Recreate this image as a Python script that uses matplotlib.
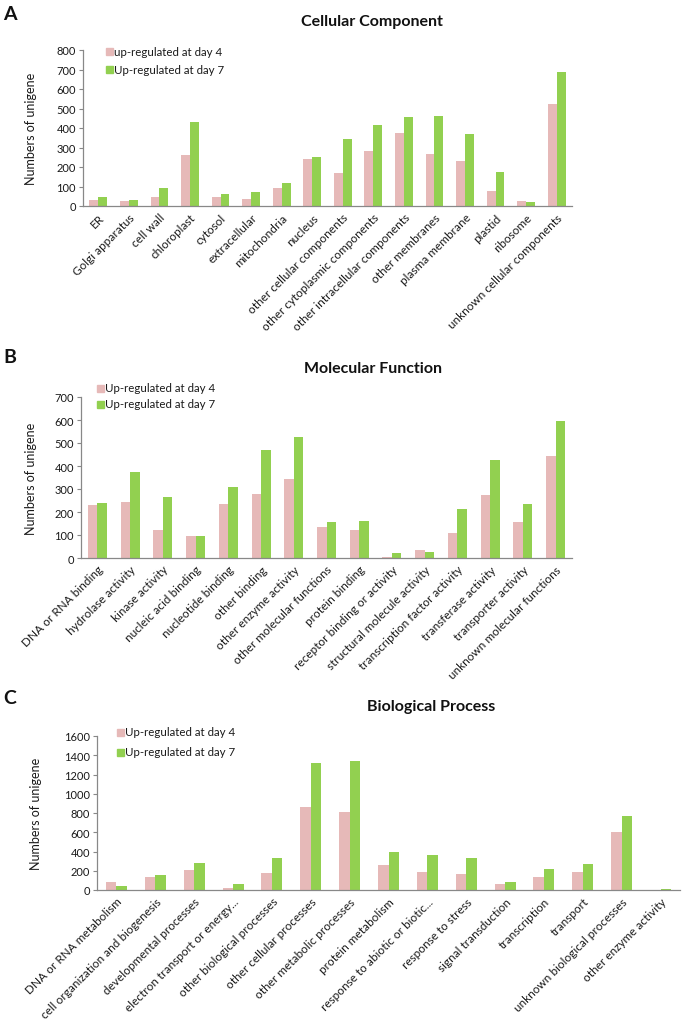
import matplotlib
matplotlib.use("Agg")
import matplotlib.pyplot as plt
import numpy as np

plt.rcParams['font.family'] = ['Lato', 'DejaVu Sans']

# ---------------- data ----------------
cc_categories = ["ER", "Golgi apparatus", "cell wall", "chloroplast", "cytosol", "extracellular",
                 "mitochondria", "nucleus", "other cellular components", "other cytoplasmic components",
                 "other intracellular components", "other membranes", "plasma membrane", "plastid",
                 "ribosome", "unknown cellular components"]
cc_day4 = [30, 25, 48, 260, 48, 37, 90, 243, 167, 283, 373, 267, 230, 77, 25, 525]
cc_day7 = [48, 30, 90, 430, 60, 72, 120, 250, 343, 413, 455, 460, 367, 172, 18, 685]

mf_categories = ["DNA or RNA binding", "hydrolase activity", "kinase activity", "nucleic acid binding",
                 "nucleotide binding", "other binding", "other enzyme activity", "other molecular functions",
                 "protein binding", "receptor binding or activity", "structural molecule activity",
                 "transcription factor activity", "transferase activity", "transporter activity",
                 "unknown molecular functions"]
mf_day4 = [230, 245, 120, 95, 235, 280, 345, 135, 120, 5, 35, 110, 275, 155, 445]
mf_day7 = [240, 375, 265, 95, 310, 470, 525, 155, 160, 20, 25, 215, 425, 235, 595]

bp_categories = ["DNA or RNA metabolism", "cell organization and biogenesis", "developmental processes",
                 "electron transport or energy...", "other biological processes", "other cellular processes",
                 "other metabolic processes", "protein metabolism", "response to abiotic or biotic...",
                 "response to stress", "signal transduction", "transcription", "transport",
                 "unknown biological processes", "other enzyme activity"]
bp_day4 = [80, 130, 210, 25, 180, 860, 815, 260, 190, 165, 60, 130, 190, 600, 0]
bp_day7 = [45, 155, 285, 60, 335, 1315, 1340, 395, 360, 335, 85, 215, 275, 765, 10]

cc_yticks = [0, 100, 200, 300, 400, 500, 600, 700, 800]
mf_yticks = [0, 100, 200, 300, 400, 500, 600, 700]
bp_yticks = [0, 200, 400, 600, 800, 1000, 1200, 1400, 1600]

# ---------------- style ----------------
PINK = "#E6B9B8"
GREEN = "#92D050"
TXT = "#1a1a1a"
W, H = 685, 1020
fig = plt.figure(figsize=(W / 100, H / 100), dpi=100)


def axes_px(left, right, top, bottom):
    return fig.add_axes([left / W, 1 - bottom / H, (right - left) / W, (bottom - top) / H])


def panel(ax, cats, d4, d7, yticks, labels, title, title_xy, letter, letter_xy,
          leg_x, leg_rows, ylab_x, bw):
    x = np.arange(len(cats))
    ax.bar(x - bw / 2, d4, bw, color=PINK)
    ax.bar(x + bw / 2, d7, bw, color=GREEN)
    ax.set_xlim(-0.5, len(cats) - 0.5)
    ax.set_ylim(yticks[0], yticks[-1])
    ax.set_yticks(yticks)
    ax.set_xticks(x)
    ax.set_xticklabels(cats, rotation=45, ha='right', va='top', rotation_mode='anchor',
                       fontsize=8.5, color=TXT)
    ax.tick_params(axis='x', length=0, pad=4)
    ax.tick_params(axis='y', length=3, width=0.8, color='#888888', labelsize=8,
                   labelcolor=TXT, pad=2)
    for s in ['top', 'right']:
        ax.spines[s].set_visible(False)
    for s in ['left', 'bottom']:
        ax.spines[s].set_color('#888888')
        ax.spines[s].set_linewidth(0.9)
    fig.text(title_xy[0] / W, 1 - title_xy[1] / H, title, ha='center', va='center',
             fontsize=11.5, fontweight='bold', color='#111111')
    fig.text(letter_xy[0] / W, 1 - letter_xy[1] / H, letter, ha='left', va='center',
             fontsize=14, fontweight='bold', color='#111111')
    pos = ax.get_position()
    fig.text(ylab_x / W, pos.y0 + pos.height / 2, "Numbers of unigene", rotation=90,
             ha='center', va='center', fontsize=9, color=TXT)
    # legend entries: square + text
    for lab, col, yrow in zip(labels, [PINK, GREEN], leg_rows):
        fig.patches.append(plt.Rectangle((leg_x / W, 1 - (yrow + 3.5) / H), 7 / W, 7 / H,
                                         transform=fig.transFigure, color=col, figure=fig))
        fig.text((leg_x + 8) / W, 1 - yrow / H, lab, ha='left', va='center',
                 fontsize=8.3, color=TXT)


axA = axes_px(83, 572, 51, 207)
panel(axA, cc_categories, cc_day4, cc_day7, cc_yticks,
      ["up-regulated at day 4", "Up-regulated at day 7"],
      "Cellular Component", (372, 22), "A", (3, 14), 106, (52, 70), 31, 0.29)

axB = axes_px(81, 572, 398, 559)
panel(axB, mf_categories, mf_day4, mf_day7, mf_yticks,
      ["Up-regulated at day 4", "Up-regulated at day 7"],
      "Molecular Function", (373, 369), "B", (3, 358), 97, (389, 405), 31, 0.29)

axC = axes_px(97, 680, 737, 891)
panel(axC, bp_categories, bp_day4, bp_day7, bp_yticks,
      ["Up-regulated at day 4", "Up-regulated at day 7"],
      "Biological Process", (431, 707), "C", (3, 698), 117, (733, 753), 36, 0.27)

fig.savefig("out.png", dpi=100)
